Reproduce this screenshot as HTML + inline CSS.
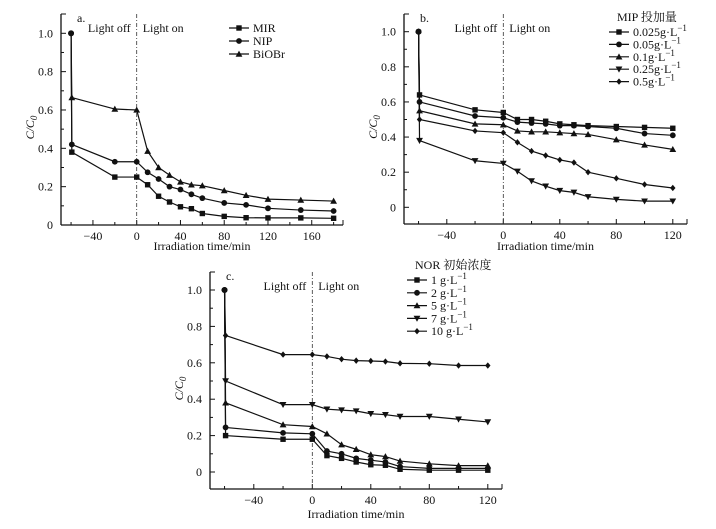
<!DOCTYPE html>
<html><head><meta charset="utf-8"><style>
body{margin:0;background:#fff}
svg{display:block}
text{font-family:"Liberation Serif","Noto Serif CJK SC",serif;font-size:12px;fill:#111}
</style></head><body>
<svg id="s" width="716" height="529" viewBox="0 0 716 529"></svg>
<script>
const xA=[-60,-20,0,10,20,30,40,50,60,80,100,120,150,180];
const aNames=["MIR","NIP","BiOBr"];
const aMIR=[0.38,0.25,0.25,0.21,0.15,0.12,0.095,0.085,0.06,0.045,0.038,0.037,0.037,0.035];
const aNIP=[0.42,0.33,0.33,0.275,0.24,0.2,0.185,0.16,0.14,0.115,0.105,0.087,0.078,0.073];
const aBiOBr=[0.665,0.605,0.6,0.385,0.3,0.26,0.225,0.21,0.205,0.18,0.155,0.135,0.13,0.125];
const xB=[-60,-20,0,10,20,30,40,50,60,80,100,120];
const bNames=["0.025g·L","0.05g·L","0.1g·L","0.25g·L","0.5g·L"];
const b1=[0.64,0.555,0.54,0.5,0.5,0.49,0.475,0.47,0.465,0.46,0.455,0.45];
const b2=[0.6,0.52,0.51,0.485,0.48,0.475,0.465,0.465,0.46,0.45,0.42,0.41];
const b3=[0.55,0.475,0.47,0.435,0.43,0.43,0.425,0.42,0.415,0.385,0.355,0.33];
const b4=[0.38,0.265,0.25,0.205,0.15,0.12,0.095,0.085,0.06,0.045,0.035,0.035];
const b5=[0.5,0.435,0.425,0.37,0.32,0.295,0.27,0.255,0.2,0.165,0.13,0.11];
const cNames=["1 g·L","2 g·L","5 g·L","7 g·L","10 g·L"];
const c1=[0.2,0.18,0.18,0.09,0.075,0.055,0.04,0.037,0.015,0.01,0.01,0.01];
const c2=[0.245,0.215,0.21,0.115,0.1,0.075,0.065,0.055,0.03,0.02,0.02,0.02];
const c3=[0.38,0.26,0.25,0.21,0.15,0.125,0.095,0.085,0.06,0.045,0.035,0.035];
const c4=[0.5,0.37,0.37,0.345,0.34,0.335,0.32,0.315,0.305,0.305,0.29,0.275];
const c5=[0.75,0.645,0.645,0.635,0.62,0.612,0.61,0.607,0.597,0.595,0.585,0.585];
const yTicks=[0,0.2,0.4,0.6,0.8,1.0];
const aXTicks=[-40,0,40,80,120,160];
const bXTicks=[-40,0,40,80,120];

const S=document.getElementById('s');
const NS="http://www.w3.org/2000/svg";
function el(t,a,p){const e=document.createElementNS(NS,t);for(const k in a)e.setAttribute(k,a[k]);(p||S).appendChild(e);return e;}
function marker(g,type,x,y){
  let m;
  if(type==='sq')m=el('rect',{x:x-2.7,y:y-2.7,width:5.4,height:5.4,fill:'#111'},g);
  else if(type==='ci')m=el('circle',{cx:x,cy:y,r:2.9,fill:'#111'},g);
  else if(type==='tu')m=el('polygon',{points:`${x},${y-3.4} ${x-3.4},${y+2.7} ${x+3.4},${y+2.7}`,fill:'#111'},g);
  else if(type==='td')m=el('polygon',{points:`${x},${y+3.4} ${x-3.4},${y-2.7} ${x+3.4},${y-2.7}`,fill:'#111'},g);
  else m=el('polygon',{points:`${x},${y-3.2} ${x+2.7},${y} ${x},${y+3.2} ${x-2.7},${y}`,fill:'#111'},g);
  
  
}
function panel(o){
  const g=el('g',{});
  
  
  const X=v=>o.x0+(v)*o.sx, Y=v=>o.y0-v*o.sy;
  el('line',{x1:o.ax,y1:o.top,x2:o.ax,y2:o.bot,stroke:'#111','stroke-width':1.3},g);
  el('line',{x1:o.ax,y1:o.bot,x2:o.right,y2:o.bot,stroke:'#111','stroke-width':1.3},g);
  el('line',{x1:o.ax,y1:o.top,x2:o.ax+5,y2:o.top,stroke:'#111'},g);
  el('line',{x1:o.right,y1:o.bot,x2:o.right,y2:o.bot-5,stroke:'#111'},g);
  yTicks.forEach((v,i)=>{
    el('line',{x1:o.ax,y1:Y(v),x2:o.ax+5,y2:Y(v),stroke:'#111'},g);
    if(i<5)el('line',{x1:o.ax,y1:Y(v+0.1),x2:o.ax+3,y2:Y(v+0.1),stroke:'#111'},g);
    const t=el('text',{x:o.ax-8,y:Y(v)+4,'text-anchor':'end'},g);t.textContent=v===0?'0':v.toFixed(1);
    
  });
  for(let v=-60;v<=o.xmax;v+=20){
    const major=o.xt.includes(v);
    el('line',{x1:X(v),y1:o.bot,x2:X(v),y2:o.bot-(major?5:3),stroke:'#111'},g);
  }
  o.xt.forEach(v=>{const t=el('text',{x:X(v),y:o.bot+15,'text-anchor':'middle'},g);t.textContent=v<0?'−'+(-v):v;
    });
  let t=el('text',{x:(o.ax+o.right)/2,y:o.xl,'text-anchor':'middle'},g);t.textContent='Irradiation time/min';
  
  t=el('text',{x:o.ax-27,y:(o.top+o.bot)/2+8,'text-anchor':'middle',transform:`rotate(-90 ${o.ax-27} ${(o.top+o.bot)/2+8})`,'font-style':'italic','font-size':'13'},g);
  t.innerHTML='C/C<tspan font-size="9" dy="3">0</tspan>';
  
  t=el('text',{x:o.ax+16,y:o.top+8},g);t.textContent=o.id+'.';
  el('line',{x1:X(0),y1:o.top,x2:X(0),y2:o.bot,stroke:'#333','stroke-width':0.8,'stroke-dasharray':'4,2,1,2'},g);
  t=el('text',{x:X(0)-6,y:o.top+18,'text-anchor':'end'},g);t.textContent='Light off';
  t=el('text',{x:X(0)+6,y:o.top+18},g);t.textContent='Light on';
  o.series.forEach((s,i)=>{
    const sg=el('g',{},g);
    
    
    const pts=[[X(-60),Y(1)]].concat(o.xs.map((x,j)=>[X(x===-60?-59.3:x),Y(s.v[j])]));
    el('polyline',{points:pts.map(p=>p.join(',')).join(' '),fill:'none',stroke:'#111','stroke-width':1.2},sg);
    pts.forEach((p,j)=>marker(sg,j===0?'ci':s.m,p[0],p[1]));
    const ly=o.ly+i*o.ld;
    const lg=el('g',{},g);
    
    
    el('line',{x1:o.lx,y1:ly,x2:o.lx+20,y2:ly,stroke:'#111','stroke-width':1.2},lg);
    marker(lg,s.m,o.lx+10,ly);
    const tt=el('text',{x:o.lx+24,y:ly+4},lg);
    tt.innerHTML=s.name+(o.sup?'<tspan font-size="9" dy="-5">−1</tspan>':'');
  });
  if(o.title){t=el('text',{x:o.lx+8,y:o.ly-11},g);t.textContent=o.title;}
}
const mk=['sq','ci','tu','td','di'];
panel({id:'a',ax:61,top:14,bot:225,right:343,x0:136.7,sx:1.094,y0:225,sy:191.7,xmax:180,xt:aXTicks,xs:xA,xl:250,
  lx:229,ly:28,ld:13,sup:false,series:[{name:aNames[0],v:aMIR,m:'sq'},{name:aNames[1],v:aNIP,m:'ci'},{name:aNames[2],v:aBiOBr,m:'tu'}]});
panel({id:'b',ax:404,top:14,bot:224,right:687,x0:503.3,sx:1.4125,y0:207.3,sy:175.6,xmax:120,xt:bXTicks,xs:xB,xl:250,
  lx:609,ly:32,ld:12.4,sup:true,title:'MIP 投加量',series:[b1,b2,b3,b4,b5].map((v,i)=>({name:bNames[i],v,m:mk[i]}))});
panel({id:'c',ax:210,top:272,bot:489,right:502,x0:312.3,sx:1.4625,y0:472,sy:182,xmax:120,xt:bXTicks,xs:xB,xl:518,
  lx:407,ly:280,ld:12.8,sup:true,title:'NOR 初始浓度',series:[c1,c2,c3,c4,c5].map((v,i)=>({name:cNames[i],v,m:mk[i]}))});
</script>
</body></html>
